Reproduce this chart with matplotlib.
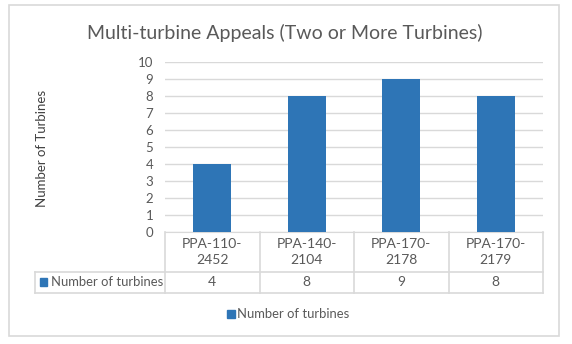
import matplotlib
matplotlib.use("Agg")
import matplotlib.pyplot as plt
from matplotlib.patches import Rectangle
from matplotlib.transforms import blended_transform_factory

categories = ["PPA-110-\n2452", "PPA-140-\n2104", "PPA-170-\n2178", "PPA-170-\n2179"]
values = [4, 8, 9, 8]
series_name = "Number of turbines"
title = "Multi-turbine Appeals (Two or More Turbines)"
ylabel = "Number of Turbines"
yticks = list(range(0, 11))

W, H = 572, 344
plt.rcParams['font.family'] = ['Lato', 'DejaVu Sans']
fig = plt.figure(figsize=(W / 100, H / 100), dpi=100)
fig.patch.set_facecolor('white')

BLUE = '#2E75B6'
GRID = '#D9D9D9'
TXT = '#595959'

def fx(px):
    return px / W

def fy(py):
    return 1 - py / H

# outer border
fig.patches.append(Rectangle((fx(9), fy(336)), (559 - 9) / W, (336 - 5) / H,
                             transform=fig.transFigure, fill=False,
                             edgecolor=GRID, linewidth=1.2))

left, right, top, bottom = 165, 543, 62, 232
ax = fig.add_axes([fx(left), fy(bottom), (right - left) / W, (bottom - top) / H])
x = list(range(len(values)))
ax.bar(x, values, width=0.4, color=BLUE, zorder=3)
ax.set_xlim(-0.5, len(values) - 0.5)
ax.set_ylim(0, 10)
ax.set_yticks(yticks)
ax.set_yticklabels([str(t) for t in yticks], color=TXT, fontsize=9.5)
ax.tick_params(axis='y', length=0, pad=8.5)
ax.set_xticks([])
ax.grid(axis='y', color=GRID, linewidth=1, zorder=0)
for s in ['top', 'right', 'left']:
    ax.spines[s].set_visible(False)
ax.spines['bottom'].set_color(GRID)

fig.text(fx(285), fy(33), title, ha='center', va='center', fontsize=14, color=TXT)
fig.text(fx(42), fy(148), ylabel, ha='center', va='center', rotation=90,
         fontsize=9.5, color='#404040')

# data table below the axes
tr = blended_transform_factory(ax.transData, ax.transAxes)
unit = (bottom - top)

def ay(py):
    return -(py - bottom) / unit

row1_bot = ay(272)
row2_bot = ay(292.5)
px_per_x = (right - left) / len(values)
x_left_table = -0.5 - (left - 35) / px_per_x
lk = dict(color=GRID, linewidth=1.2, transform=tr, clip_on=False)
for i in range(len(values) + 1):
    xv = i - 0.5
    ax.plot([xv, xv], [0, row2_bot], **lk)
ax.plot([x_left_table, len(values) - 0.5], [row1_bot, row1_bot], **lk)
ax.plot([x_left_table, len(values) - 0.5], [row2_bot, row2_bot], **lk)
ax.plot([x_left_table, x_left_table], [row1_bot, row2_bot], **lk)
for i, (c, v) in enumerate(zip(categories, values)):
    ax.text(i, (0 + row1_bot) / 2, c, transform=tr, ha='center', va='center',
            fontsize=10, color=TXT, linespacing=1.45)
    ax.text(i, (row1_bot + row2_bot) / 2, str(v), transform=tr, ha='center',
            va='center', fontsize=10, color=TXT)
# row label with key
fig.patches.append(Rectangle((fx(40), fy(286)), 7 / W, 8 / H,
                             transform=fig.transFigure, color=BLUE))
fig.text(fx(51), fy(282.5), series_name, ha='left', va='center',
         fontsize=9.4, color=TXT)

# legend
fig.patches.append(Rectangle((fx(227), fy(318)), 8 / W, 8 / H,
                             transform=fig.transFigure, color=BLUE))
fig.text(fx(237), fy(314), series_name, ha='left', va='center',
         fontsize=9.4, color=TXT)

fig.savefig('out.png', dpi=100)
